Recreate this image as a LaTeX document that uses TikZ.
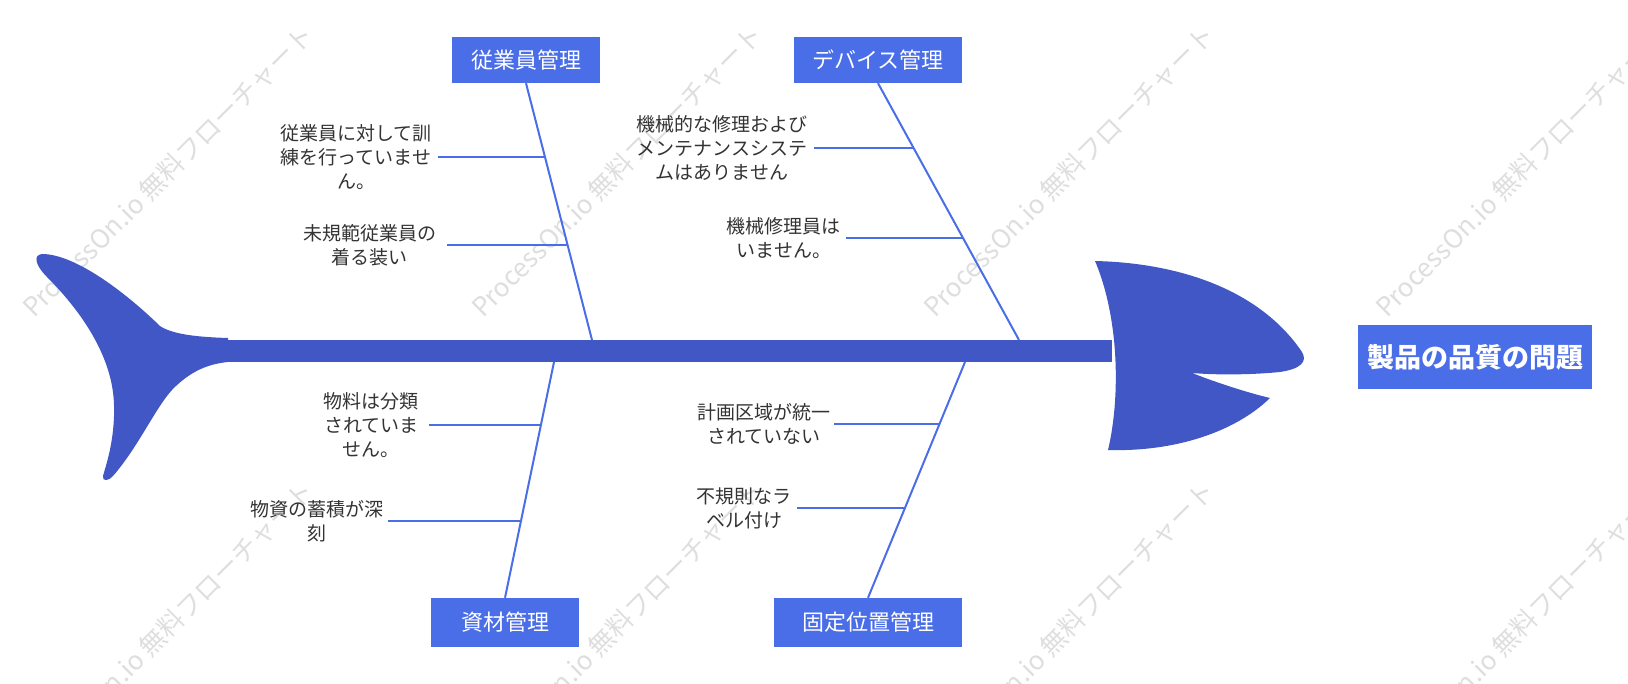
\documentclass[tikz,border=0pt]{standalone}
\usepackage{fontspec}
\setmainfont{Noto Sans CJK JP}
\usetikzlibrary{positioning,calc}

\definecolor{fishblue}{HTML}{4257C6}
\definecolor{boneblue}{HTML}{4A6DE8}
\definecolor{labelgray}{HTML}{333333}

\begin{document}
\begin{tikzpicture}[
    x=1pt, y=-1pt,
    catbox/.style={fill=boneblue, text=white, minimum height=46pt, inner sep=0pt, font=\fontsize{22}{26}\selectfont},
    causetext/.style={align=center, text=labelgray, inner sep=0pt, font=\fontsize{19}{24}\selectfont},
    bone/.style={draw=boneblue, line width=2pt},
    watermark/.style={rotate=45, text=black!13, font=\fontsize{26}{26}\selectfont}
]
\useasboundingbox (0,0) rectangle (1628,684);

% watermarks
\foreach \wx in {168,617,1069,1521}
  \foreach \wy in {171,627}
    \node[watermark] at (\wx,\wy) {ProcessOn.io 無料フローチャート};

% fish body
\fill[fishblue] (215,340) rectangle (1112,362);
\fill[fishblue] (228,338) .. controls (195,337) and (172,334) .. (160,326)
  .. controls (125,292) and (75,254) .. (42,254)
  .. controls (33,255) and (35,265) .. (47,277)
  .. controls (85,315) and (113,360) .. (114,405)
  .. controls (115,440) and (106,465) .. (103,476)
  .. controls (102,482) and (109,481) .. (113,476)
  .. controls (140,445) and (158,402) .. (176,386)
  .. controls (192,371) and (208,364) .. (228,362) -- cycle;
\fill[fishblue] (1095,261) .. controls (1180,263) and (1260,290) .. (1302,352)
  .. controls (1308,362) and (1300,369) .. (1280,372)
  .. controls (1250,375) and (1215,375) .. (1192,373)
  .. controls (1215,382) and (1245,392) .. (1270,398)
  .. controls (1235,432) and (1175,452) .. (1108,450)
  .. controls (1120,400) and (1120,320) .. (1095,261) -- cycle;

% problem
\node[fill=boneblue, text=white, minimum width=234pt, minimum height=64pt, inner sep=0pt,
      font=\fontsize{27}{31}\selectfont\bfseries] (problem) at (1475,357) {製品の品質の問題};

% categories
\node[catbox, minimum width=148pt] (staff) at (526,60) {従業員管理};
\node[catbox, minimum width=168pt] (device) at (878,60) {デバイス管理};
\node[catbox, minimum width=148pt, minimum height=49pt] (material) at (505,622.5) {資材管理};
\node[catbox, minimum width=188pt, minimum height=49pt] (fixed) at (868,622.5) {固定位置管理};

% points on the spine
\coordinate (sp1) at (592,340);
\coordinate (sp2) at (1019,340);
\coordinate (sp3) at (554,362);
\coordinate (sp4) at (965,362);

\draw[bone] (staff.south) -- (sp1);
\draw[bone] (device.south) -- (sp2);
\draw[bone] (material.north) -- (sp3);
\draw[bone] (fixed.north) -- (sp4);

% causes
\coordinate (a1) at ($(staff.south)!0.288!(sp1)$);
\coordinate (a2) at ($(staff.south)!0.630!(sp1)$);
\coordinate (b1) at ($(device.south)!0.253!(sp2)$);
\coordinate (b2) at ($(device.south)!0.603!(sp2)$);
\coordinate (c1) at ($(sp3)!0.267!(material.north)$);
\coordinate (c2) at ($(sp3)!0.674!(material.north)$);
\coordinate (d1) at ($(sp4)!0.263!(fixed.north)$);
\coordinate (d2) at ($(sp4)!0.619!(fixed.north)$);

\draw[bone] (a1) -- ++(-107,0) coordinate (a1s);
\draw[bone] (a2) -- ++(-121,0) coordinate (a2s);
\draw[bone] (b1) -- ++(-100,0) coordinate (b1s);
\draw[bone] (b2) -- ++(-117,0) coordinate (b2s);
\draw[bone] (c1) -- ++(-112,0) coordinate (c1s);
\draw[bone] (c2) -- ++(-133,0) coordinate (c2s);
\draw[bone] (d1) -- ++(-105,0) coordinate (d1s);
\draw[bone] (d2) -- ++(-108,0) coordinate (d2s);

\node[causetext, left=6pt of a1s] (training) {従業員に対して訓\\練を行っていませ\\ん。};
\node[causetext, left=10pt of a2s] (uniform) {未規範従業員の\\着る装い};
\node[causetext, left=6pt of b1s] (maintsys) {機械的な修理および\\メンテナンスシステ\\ムはありません};
\node[causetext, left=5pt of b2s] (repairer) {機械修理員は\\いません。};
\node[causetext, left=10pt of c1s] (sorting) {物料は分類\\されていま\\せん。};
\node[causetext, left=4pt of c2s] (stock) {物資の蓄積が深\\刻};
\node[causetext, left=4pt of d1s] (area) {計画区域が統一\\されていない};
\node[causetext, left=5pt of d2s] (labels) {不規則なラ\\ベル付け};
\end{tikzpicture}
\end{document}
